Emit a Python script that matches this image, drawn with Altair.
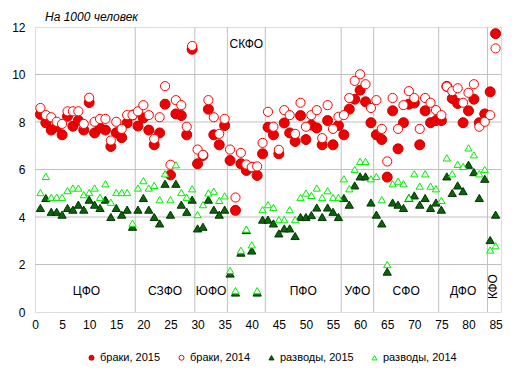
import altair as alt
import pandas as pd

FONT = "Liberation Sans"

region_index = list(range(1, 86))

marriages_2015 = [
    8.32, 7.97, 7.66, 7.80, 7.46, 8.24, 7.82, 8.06, 7.66, 8.82,
    7.54, 7.75, 7.66, 6.97, 7.55, 7.34, 7.96, 8.29, 7.83, 8.17,
    7.66, 7.04, 7.54, 8.75, 5.77, 8.34, 8.27, 7.46, 11.06, 6.24,
    6.59, 8.54, 7.46, 7.04, 7.85, 6.38, 4.28, 6.24, 5.96, 6.10,
    5.75, 6.66, 7.78, 7.46, 6.66, 7.96, 7.54, 7.18, 8.27, 7.26,
    7.87, 7.75, 7.04, 8.06, 7.04, 7.85, 7.46, 8.54, 8.96, 9.34,
    8.85, 7.97, 7.46, 7.26, 5.68, 8.47, 6.87, 7.97, 8.75, 8.80,
    7.04, 8.47, 7.97, 8.06, 8.06, 9.50, 8.99, 8.78, 7.97, 8.47,
    8.96, 7.97, 8.34, 9.27, 11.72,
]

marriages_2014 = [
    8.59, 8.29, 8.20, 8.01, 7.92, 8.45, 8.45, 8.45, 7.92, 9.02,
    8.01, 8.13, 8.13, 7.22, 8.01, 7.71, 8.29, 8.29, 8.45, 8.71,
    8.29, 7.29, 8.20, 9.51, 6.20, 8.92, 8.71, 7.80, 11.20, 6.84,
    6.62, 8.92, 8.20, 7.50, 8.13, 6.84, 4.82, 6.70, 6.21, 6.10,
    6.13, 7.12, 8.43, 7.80, 6.83, 8.50, 8.29, 7.50, 8.81, 7.80,
    8.29, 8.50, 7.32, 8.71, 7.71, 8.22, 8.29, 9.01, 9.73, 10.01,
    9.59, 8.59, 8.92, 7.71, 6.34, 9.01, 7.71, 8.71, 9.30, 9.01,
    7.71, 9.01, 8.81, 8.50, 8.29, 9.49, 9.30, 9.42, 8.81, 9.23,
    9.59, 7.80, 8.01, 8.29, 11.10,
]

divorces_2015 = [
    4.38, 4.80, 4.22, 4.22, 4.10, 4.38, 4.31, 4.52, 4.31, 4.73,
    4.52, 4.38, 4.73, 4.00, 4.38, 4.10, 4.31, 3.59, 4.31, 4.80,
    4.31, 4.00, 3.73, 5.40, 4.10, 5.40, 4.52, 4.22, 4.73, 3.52,
    3.59, 4.73, 4.31, 4.10, 4.31, 1.62, 0.82, 2.50, 3.45, 2.59,
    0.82, 3.89, 3.89, 3.73, 3.31, 3.52, 3.52, 3.20, 4.00, 4.00,
    4.08, 4.40, 4.00, 4.40, 4.22, 4.00, 4.80, 4.52, 5.33, 5.71,
    5.71, 4.61, 4.10, 3.73, 1.70, 4.61, 4.52, 4.38, 4.80, 4.91,
    4.52, 4.80, 4.38, 4.61, 4.31, 5.71, 5.01, 5.33, 5.09, 6.20,
    5.89, 4.80, 5.61, 3.03, 4.10,
]

divorces_2014 = [
    5.03, 5.71, 4.83, 4.83, 4.83, 5.11, 5.22, 5.22, 4.94, 5.03,
    5.22, 4.83, 5.40, 4.62, 5.03, 5.03, 5.03, 3.74, 5.22, 5.53,
    5.22, 5.33, 4.73, 5.82, 4.73, 6.20, 5.03, 4.83, 5.19, 4.10,
    4.52, 5.01, 5.09, 4.70, 4.89, 1.75, 0.90, 2.60, 3.49, 2.83,
    0.90, 4.31, 4.52, 4.40, 3.89, 3.89, 4.31, 3.89, 4.82, 5.01,
    4.91, 5.22, 4.82, 5.11, 4.82, 4.82, 5.61, 5.19, 6.00, 6.34,
    6.34, 5.61, 5.71, 4.73, 2.00, 5.40, 5.51, 5.40, 4.80, 5.82,
    5.30, 5.82, 5.30, 5.19, 4.70, 6.49, 5.82, 6.22, 6.13, 6.91,
    6.62, 5.82, 6.00, 2.61, 2.79,
]

series_names = ["браки, 2015", "браки, 2014", "разводы, 2015", "разводы, 2014"]
district_names = ["ЦФО", "СЗФО", "ЮФО", "СКФО", "ПФО", "УФО", "СФО", "ДФО", "КФО"]
district_sizes = [18, 11, 6, 7, 14, 6, 12, 9, 2]
x_ticks = list(range(0, 86, 5))
y_ticks = [0, 2, 4, 6, 8, 10, 12]

# ---- tables built from the arrays ----
rows = []
for name, vals in zip(series_names,
                      [marriages_2015, marriages_2014, divorces_2015, divorces_2014]):
    for i, v in zip(region_index, vals):
        rows.append({"series": name, "x": i, "y": v})
points_df = pd.DataFrame(rows)

starts, ends = [], []
acc = 0.5
for s in district_sizes:
    starts.append(acc)
    acc += s
    ends.append(acc)
boundary_df = pd.DataFrame({"x": ends[:-1]})
hgrid_df = pd.DataFrame({"y": y_ticks[1:-1]})

BOTTOM_LABEL_Y = 0.9
TOP_LABEL_Y = 11.28
lab_rows = []
for name, a, b in zip(district_names, starts, ends):
    lab_rows.append({"name": name, "x": (a + b) / 2,
                     "y": TOP_LABEL_Y if name == "СКФО" else BOTTOM_LABEL_Y})
labels_df = pd.DataFrame(lab_rows)
labels_h = labels_df[labels_df["name"] != "КФО"]
labels_v = labels_df[labels_df["name"] == "КФО"].assign(y=1.07)

# ---- scales / axes ----
xscale = alt.Scale(domain=[0, 86], nice=False, zero=False)
yscale = alt.Scale(domain=[0, 12], nice=False)
xaxis = alt.Axis(values=x_ticks, grid=False, ticks=False, tickSize=0, domain=False,
                 labelPadding=7, title=None, labelFontSize=12, labelFont=FONT,
                 labelColor="black", labelFlush=False)
yaxis = alt.Axis(values=y_ticks, grid=False, ticks=False, tickSize=0, domain=False,
                 labelPadding=10, title=None, labelFontSize=12, labelFont=FONT,
                 labelColor="black")

leg = alt.Legend(title=None, orient="none", legendX=51, legendY=325,
                 direction="horizontal", symbolSize=25, symbolStrokeWidth=1,
                 labelFontSize=11, labelFont=FONT, labelColor="black",
                 columnPadding=15, labelOffset=3, padding=0, gridAlign="each")

RED = "#ee0000"
RED_EDGE = "#c80000"
DKGREEN = "#0a640a"
DKGREEN_EDGE = "#033303"
LTGREEN = "#00ee00"

vgrid = alt.Chart(boundary_df).mark_rule(color="#c0c0c0", strokeWidth=1).encode(
    x=alt.X("x:Q", scale=xscale, axis=xaxis)
)
hgrid = alt.Chart(hgrid_df).mark_rule(color="#c0c0c0", strokeWidth=1).encode(
    y=alt.Y("y:Q", scale=yscale, axis=yaxis)
)

# marker sizes, listed in reverse series order so the size scale is not merged
# into (and does not disable) the shared legend
size_domain = series_names[::-1]
size_range = [52, 100, 44, 88]

points = alt.Chart(points_df).mark_point(filled=True, opacity=1, strokeWidth=1).encode(
    x=alt.X("x:Q", scale=xscale, axis=xaxis),
    y=alt.Y("y:Q", scale=yscale, axis=yaxis),
    shape=alt.Shape("series:N", scale=alt.Scale(
        domain=series_names,
        range=["circle", "circle", "triangle-up", "triangle-up"]), legend=leg),
    fill=alt.Fill("series:N", scale=alt.Scale(
        domain=series_names, range=[RED, "white", DKGREEN, "white"]), legend=leg),
    stroke=alt.Stroke("series:N", scale=alt.Scale(
        domain=series_names, range=[RED_EDGE, "#ff0000", DKGREEN_EDGE, LTGREEN]), legend=leg),
    size=alt.Size("series:N", scale=alt.Scale(domain=size_domain, range=size_range),
                  legend=None),
)

text_h = alt.Chart(labels_h).mark_text(fontSize=12, font=FONT, color="black",
                                        baseline="middle", align="center").encode(
    x=alt.X("x:Q", scale=xscale, axis=xaxis),
    y=alt.Y("y:Q", scale=yscale, axis=yaxis),
    text="name:N",
)
text_v = alt.Chart(labels_v).mark_text(fontSize=12, font=FONT, color="black",
                                        baseline="middle", align="center", angle=270).encode(
    x=alt.X("x:Q", scale=xscale, axis=xaxis),
    y=alt.Y("y:Q", scale=yscale, axis=yaxis),
    text="name:N",
)

chart = alt.layer(vgrid, hgrid, points, text_h, text_v).properties(
    width=466,
    height=285,
    title=alt.TitleParams(text="На 1000 человек", anchor="start", frame="group",
                          dx=10, dy=3, offset=0, fontSize=12, fontStyle="italic",
                          fontWeight="normal", font=FONT, color="black"),
    padding={"left": 35, "top": 27, "right": 15, "bottom": 63},
    autosize=alt.AutoSizeParams(type="none"),
).configure_view(stroke="black", strokeWidth=1).configure(background="white")

chart.save("out.html", embed_options={"renderer": "svg", "actions": False})
